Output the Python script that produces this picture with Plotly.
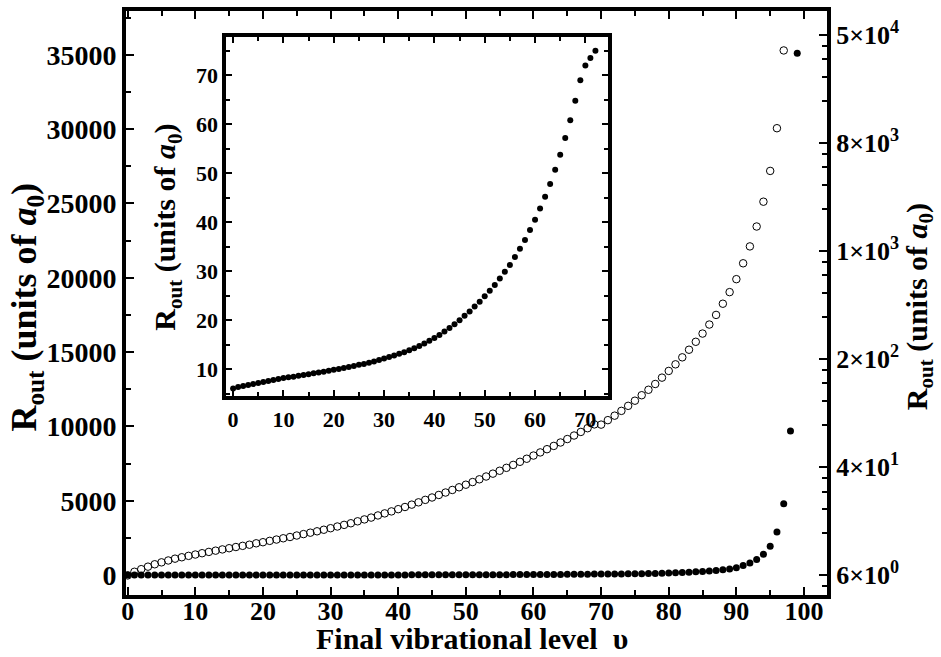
import plotly.graph_objects as go

# ---------------- data ----------------
# filled dots: R_out (units of a0) vs final vibrational level v (linear left axis)
v_filled = list(range(0, 100))
r_filled = [
    6.1, 6.4, 6.6, 6.8, 7.0, 7.2, 7.4, 7.6, 7.8, 8.0,
    8.2, 8.35, 8.5, 8.7, 8.85, 9.0, 9.2, 9.35, 9.5, 9.7,
    9.9, 10.05, 10.25, 10.45, 10.65, 10.9, 11.1, 11.35, 11.6, 11.9,
    12.2, 12.5, 12.8, 13.15, 13.5, 13.9, 14.3, 14.75, 15.25, 15.8,
    16.4, 17.0, 17.7, 18.4, 19.2, 20.0, 20.9, 21.8, 22.8, 23.8,
    24.9, 26.0, 27.2, 28.5, 29.9, 31.3, 32.9, 34.6, 36.4, 38.4,
    40.5, 42.8, 45.2, 47.8, 50.7, 53.8, 57.2, 60.8, 64.8, 69.0,
    72.0, 73.5, 75.0, 80, 86, 92, 99, 107, 116, 128,
    150, 165, 182, 200, 222, 248, 278, 315, 360, 420,
    500, 640, 820, 1050, 1400, 1950, 2900, 4800, 9700, 35100,
]

# open circles: R_out on the logarithmic right axis
v_open = list(range(0, 98))
r_open = [
    6.4, 6.8, 7.1, 7.4, 7.7, 7.95, 8.2, 8.45, 8.65, 8.85,
    9.05, 9.25, 9.45, 9.65, 9.85, 10.05, 10.25, 10.45, 10.65, 10.9,
    11.1, 11.35, 11.6, 11.85, 12.1, 12.4, 12.7, 13.0, 13.3, 13.65,
    14.0, 14.4, 14.8, 15.2, 15.7, 16.2, 16.7, 17.3, 17.9, 18.5,
    19.2, 19.9, 20.7, 21.5, 22.4, 23.3, 24.3, 25.3, 26.4, 27.6,
    28.8, 30.1, 31.5, 33.0, 34.6, 36.3, 38.1, 40.0, 42.1, 44.3,
    46.7, 49.2, 51.9, 54.8, 58.0, 61.4, 65.1, 69.1, 73.5, 78.3,
    78.0, 84.0, 90.5, 98.0, 106.5, 116, 127, 139, 153, 170,
    190, 212, 238, 270, 308, 353, 410, 481, 579, 702,
    870, 1132, 1498, 2083, 3143, 5237, 10630, 38600,
]

# inset: first levels only
inset_n = 73

# axis ticks
x_ticks = [0, 10, 20, 30, 40, 50, 60, 70, 80, 90, 100]
y_left_ticks = [0, 5000, 10000, 15000, 20000, 25000, 30000, 35000]
y_right_ticks = [50000 / 6 ** k for k in range(5, -1, -1)]
y_right_text = ["6×10<sup>0</sup>", "4×10<sup>1</sup>", "2×10<sup>2</sup>",
                "1×10<sup>3</sup>", "8×10<sup>3</sup>", "5×10<sup>4</sup>"]
y_right_minor = [m * t / 6 for t in y_right_ticks for m in (2, 3, 4, 5)] + \
                [m * y_right_ticks[-1] for m in (2, 3, 4, 5)]
inset_x_ticks = [0, 10, 20, 30, 40, 50, 60, 70]
inset_y_ticks = [10, 20, 30, 40, 50, 60, 70]

FONT = "Liberation Serif"
ytitle = "<b>R<sub>out</sub> (units of <i>a</i><sub>0</sub>)</b>"

fig = go.Figure()
fig.add_trace(go.Scatter(
    x=v_open, y=r_open, mode="markers", yaxis="y3", xaxis="x",
    marker=dict(symbol="circle-open", size=7.5, color="black", line=dict(width=1)),
    showlegend=False, cliponaxis=False))
fig.add_trace(go.Scatter(
    x=v_filled, y=r_filled, mode="markers", xaxis="x", yaxis="y",
    marker=dict(symbol="circle", size=7, color="black"),
    showlegend=False, cliponaxis=False))
fig.add_trace(go.Scatter(
    x=v_filled[:inset_n], y=r_filled[:inset_n], mode="markers", xaxis="x2", yaxis="y2",
    marker=dict(symbol="circle", size=6, color="black"),
    showlegend=False, cliponaxis=False))

axis_common = dict(showgrid=False, zeroline=False, showline=True, linecolor="black",
                   linewidth=4, ticks="inside", tickcolor="black")
TICK = dict(size=28, family=FONT, weight="bold")
RTICK = dict(size=26, family=FONT, weight="bold")
ITICK = dict(size=22, family=FONT, weight="bold")

fig.update_layout(
    width=941, height=657,
    margin=dict(l=126, r=114, t=7, b=62),
    paper_bgcolor="white", plot_bgcolor="white",
    font=dict(family=FONT, color="black"),
    xaxis=dict(**axis_common, range=[-0.25, 103.4], tickvals=x_ticks,
               ticklen=8, tickwidth=2, mirror="ticks", ticklabelstandoff=-10,
               minor=dict(ticks="inside", dtick=5, ticklen=5, tickwidth=2, tickcolor="black"),
               tickfont=dict(size=26, family=FONT, weight="bold")),
    yaxis=dict(**axis_common, range=[-1336, 37940], tickvals=y_left_ticks, tickformat="d",
               ticklen=8, tickwidth=2,
               minor=dict(ticks="inside", dtick=2500, ticklen=5, tickwidth=2, tickcolor="black"),
               tickfont=TICK),
    yaxis3=dict(**axis_common, overlaying="y", side="right", type="log",
                range=[0.6652, 4.8706], tickvals=y_right_ticks, ticktext=y_right_text,
                ticklen=8, tickwidth=2,
                minor=dict(ticks="inside", tickvals=y_right_minor, ticklen=5, tickwidth=2,
                           tickcolor="black"),
                tickfont=RTICK),
    xaxis2=dict(**axis_common, domain=[0.1431, 0.6876], anchor="y2", range=[-1.35, 74.5],
                tickvals=inset_x_ticks, ticklen=6, tickwidth=2, mirror="ticks",
                minor=dict(ticks="inside", dtick=5, ticklen=4, tickwidth=2, tickcolor="black"),
                tickfont=ITICK),
    yaxis2=dict(**axis_common, domain=[0.3401, 0.9563], anchor="x2", range=[4.47, 77.9],
                tickvals=inset_y_ticks, ticklen=6, tickwidth=2, mirror="ticks",
                minor=dict(ticks="inside", dtick=5, ticklen=4, tickwidth=2, tickcolor="black"),
                tickfont=ITICK),
    annotations=[
        dict(text="<b>Final vibrational level  υ</b>", xref="paper", yref="paper",
             x=0.4936, y=-0.1054, xanchor="center", yanchor="bottom", showarrow=False,
             font=dict(size=30, family=FONT)),
        dict(text=ytitle, xref="paper", yref="paper", x=-0.142, y=0.493,
             xanchor="center", yanchor="middle", textangle=-90, showarrow=False,
             font=dict(size=36, family=FONT)),
        dict(text=ytitle, xref="paper", yref="paper", x=1.1313, y=0.493,
             xanchor="center", yanchor="middle", textangle=-90, showarrow=False,
             font=dict(size=30, family=FONT)),
        dict(text=ytitle, xref="paper", yref="paper", x=0.0585, y=0.629,
             xanchor="center", yanchor="middle", textangle=-90, showarrow=False,
             font=dict(size=30, family=FONT)),
    ],
)

fig.write_html("out.html")
